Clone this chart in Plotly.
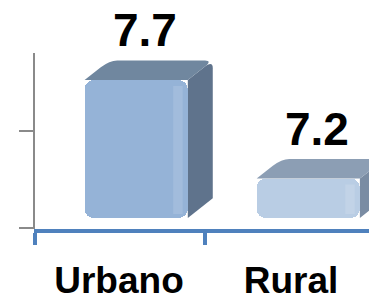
import plotly.graph_objects as go

# ---- data ----
categories = ["Urbano", "Rural"]
values = [7.7, 7.2]
BASE = 7.0            # baseline of the value axis
axis_ticks = [7.0, 7.5]

# ---- style ----
front_colors = ["#95B3D7", "#B9CDE4"]
top_colors = ["#70879F", "#8C9EB4"]
side_colors = ["#5F738C", "#7A8CA3"]
BLUE = "#4F81BD"
GRAY = "#8A8A8A"
FONT = "Liberation Sans"

X_OFF, W = -0.2, 0.6      # bar front face offset/width (category units)
DX, DY = 0.145, 0.10      # 3-D depth offsets (x units, y units)
RX, RY, A = 0.045, 0.04, 0.35

xs = list(range(len(categories)))

fig = go.Figure()
fig.add_trace(go.Bar(
    x=xs, y=[v - BASE for v in values], base=BASE,
    offset=X_OFF, width=W,
    marker=dict(color=front_colors, cornerradius=9, line=dict(width=0)),
    hoverinfo="skip", showlegend=False,
))
# invisible trace to carry the secondary (gray) axis
fig.add_trace(go.Scatter(x=[xs[0]], y=[BASE], yaxis="y2", mode="markers",
                         marker=dict(opacity=0), showlegend=False, hoverinfo="skip"))

shapes = []
for i, v in zip(xs, values):
    x0, x1 = i + X_OFF, i + X_OFF + W
    top = (f"M {x0},{v} "
           f"L {x0 + DX - A*DX},{v + DY - A*DY} "
           f"Q {x0 + DX},{v + DY} {x0 + DX + RX},{v + DY} "
           f"L {x1 + DX - RX},{v + DY} "
           f"Q {x1 + DX},{v + DY} {x1 + DX - A*DX},{v + DY - A*DY} "
           f"L {x1},{v} Z")
    side = (f"M {x1},{v} "
            f"L {x1 + DX - A*DX},{v + DY - A*DY} "
            f"Q {x1 + DX},{v + DY} {x1 + DX},{v + DY - RY} "
            f"L {x1 + DX},{BASE + DY} "
            f"L {x1},{BASE} Z")
    shapes.append(dict(type="path", path=side, xref="x", yref="y",
                       fillcolor=side_colors[i], line=dict(width=0), layer="below"))
    shapes.append(dict(type="path", path=top, xref="x", yref="y",
                       fillcolor=top_colors[i], line=dict(width=0), layer="below"))
    # soft highlight stripe on the front face near its right edge
    shapes.append(dict(type="rect", xref="x", yref="y",
                       x0=x1 - 0.085, x1=x1 - 0.03, y0=BASE + 0.02, y1=v - 0.03,
                       fillcolor="white", opacity=0.13, line=dict(width=0), layer="above"))

annotations = []
for i, v in zip(xs, values):
    annotations.append(dict(
        x=i + 0.15, y=v, xref="x", yref="y", text=f"{v}",
        showarrow=False, yanchor="bottom", yshift=22,
        font=dict(family=FONT, size=46, color="black", weight="bold"),
    ))

fig.update_layout(
    width=369, height=300,
    margin=dict(l=34, r=0, t=53, b=71, autoexpand=False),
    paper_bgcolor="white", plot_bgcolor="white",
    shapes=shapes, annotations=annotations,
    bargap=0,
    xaxis=dict(
        range=[-0.494, 1.453], tickmode="array", tickvals=xs, ticktext=categories,
        ticks="", showgrid=False, zeroline=False, automargin=False,
        showline=True, linecolor=BLUE, linewidth=4,
        tickfont=dict(family=FONT, size=37, color="black", weight="bold"),
        ticklabelstandoff=16,
        minor=dict(tickmode="array", tickvals=[-0.49, 0.5], ticks="outside",
                   ticklen=12, tickwidth=4, tickcolor=BLUE, showgrid=False),
    ),
    yaxis=dict(range=[BASE - 11/197, BASE + 165/197], visible=False, automargin=False),
    yaxis2=dict(
        overlaying="y", anchor="free", position=0, side="left", automargin=False,
        range=[BASE - 1/194, BASE + 175/194],
        tickmode="array", tickvals=axis_ticks, showticklabels=False,
        ticks="outside", ticklen=14, tickwidth=2, tickcolor=GRAY,
        showline=True, linecolor=GRAY, linewidth=2,
        showgrid=False, zeroline=False,
    ),
)

fig.write_html("out.html",
               config={"displayModeBar": False, "staticPlot": True},
               post_script="document.body.style.margin='0';document.body.style.overflow='hidden';")
